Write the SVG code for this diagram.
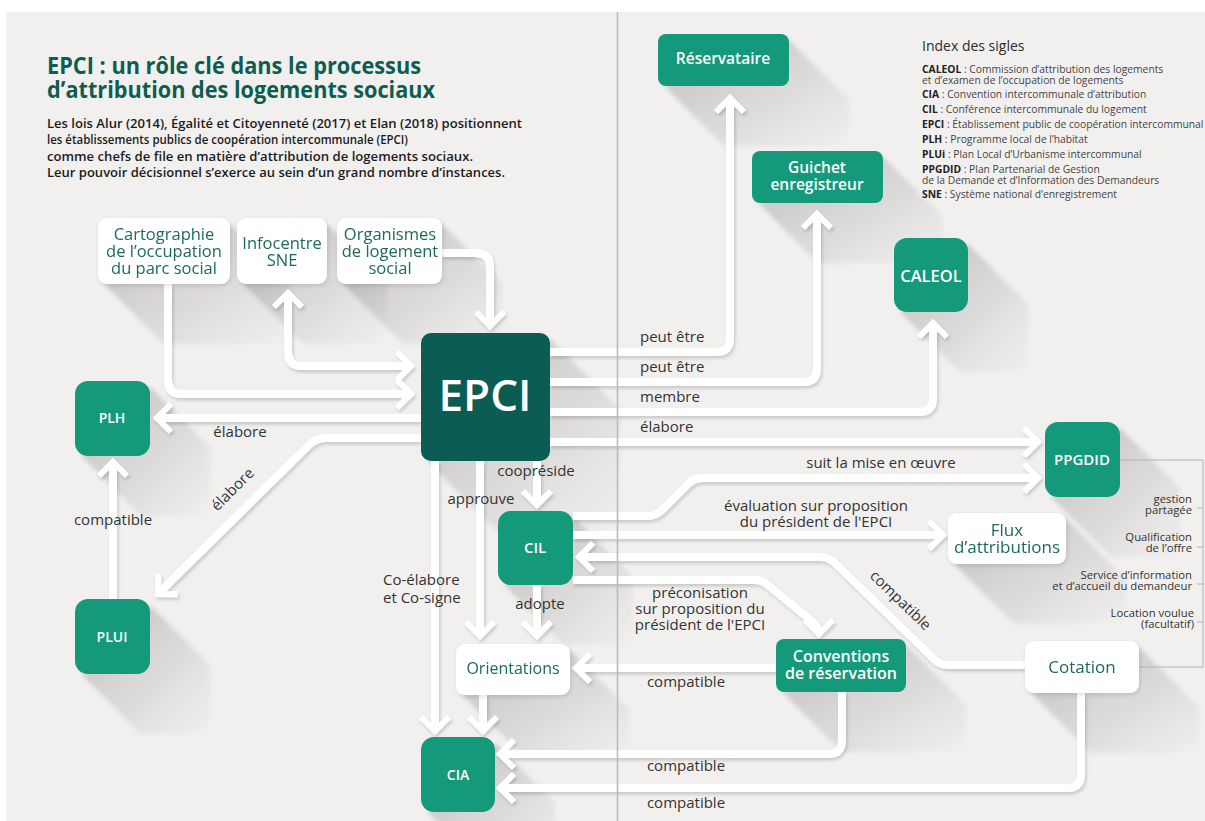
<svg xmlns="http://www.w3.org/2000/svg" width="1205" height="821" viewBox="0 0 1205 821">
  <defs>
    <style>
      .paper { fill: #f2f0ef; }
      .fold { stroke: #bdbbbb; stroke-width: 1.6; fill: none; }
      .ls { fill: url(#longShadow); }
      .green { fill: #14997a; }
      .dark { fill: #0b5c53; }
      .white { fill: #ffffff; }
      .conn { fill: none; stroke: #ffffff; stroke-width: 8; stroke-linecap: butt; stroke-linejoin: round; }
      .tw { font-family: "Open Sans", "Noto Sans", "Liberation Sans", sans-serif; fill: #ffffff; font-weight: 600; text-anchor: middle; }
      .tt { font-family: "Open Sans", "Noto Sans", "Liberation Sans", sans-serif; fill: #1d6a5c; font-weight: 500; text-anchor: middle; }
      .lab { font-family: "Open Sans", "Noto Sans", "Liberation Sans", sans-serif; fill: #333333; font-size: 15px; }
      .mid { text-anchor: middle; }
      .title { font-family: "Open Sans", "Noto Sans", "Liberation Sans", sans-serif; fill: #0e5d4f; font-size: 23px; font-weight: 700; }
      .intro { font-family: "Open Sans", "Noto Sans", "Liberation Sans", sans-serif; fill: #1c1c1c; font-size: 12px; font-weight: 600; }
      .idx { font-family: "Open Sans", "Noto Sans", "Liberation Sans", sans-serif; fill: #444444; font-size: 10.3px; }
      .idx tspan.k { font-weight: 700; fill: #222222; }
      .sub { font-family: "Open Sans", "Noto Sans", "Liberation Sans", sans-serif; fill: #333333; font-size: 11.3px; text-anchor: end; }
      .thin { fill: none; stroke: #b3b1b1; stroke-width: 1; }
    </style>
    <linearGradient id="longShadow" x1="0" y1="0" x2="1" y2="1">
      <stop offset="0.3" stop-color="#000000" stop-opacity="0.14"/>
      <stop offset="1" stop-color="#000000" stop-opacity="0"/>
    </linearGradient>
    <filter id="soft" x="-10%" y="-10%" width="120%" height="120%">
      <feGaussianBlur stdDeviation="2"/>
    </filter>
    <filter id="lineShadow" x="-5%" y="-5%" width="110%" height="110%">
      <feDropShadow dx="1.5" dy="2.5" stdDeviation="1.8" flood-color="#000000" flood-opacity="0.16"/>
    </filter>
    <filter id="boxShadow" x="-20%" y="-20%" width="140%" height="140%">
      <feDropShadow dx="1" dy="2" stdDeviation="2" flood-color="#000000" flood-opacity="0.12"/>
    </filter>
    <marker id="arrow" markerUnits="userSpaceOnUse" viewBox="-24 -24 48 48" markerWidth="48" markerHeight="48" refX="0" refY="0" orient="auto-start-reverse">
      <path d="M-14,-14 L0,0 L-14,14" fill="none" stroke="#ffffff" stroke-width="6" stroke-linejoin="miter"/>
    </marker>
  </defs>

  <!-- page -->
  <rect x="0" y="0" width="1205" height="821" fill="#ffffff"/>
  <rect class="paper" x="6" y="12" width="1199" height="809"/>

  <!-- header -->
  <g id="header">
    <text class="title" x="47" y="74" textLength="374" lengthAdjust="spacingAndGlyphs">EPCI : un rôle clé dans le processus</text>
    <text class="title" x="47" y="98" textLength="388" lengthAdjust="spacingAndGlyphs">d’attribution des logements sociaux</text>
    <text class="intro" x="47" y="128" textLength="475" lengthAdjust="spacingAndGlyphs">Les lois Alur (2014), Égalité et Citoyenneté (2017) et Elan (2018) positionnent</text>
    <text class="intro" x="47" y="144" textLength="361" lengthAdjust="spacingAndGlyphs">les établissements publics de coopération intercommunale (EPCI)</text>
    <text class="intro" x="47" y="161" textLength="426" lengthAdjust="spacingAndGlyphs">comme chefs de file en matière d’attribution de logements sociaux.</text>
    <text class="intro" x="47" y="177" textLength="458" lengthAdjust="spacingAndGlyphs">Leur pouvoir décisionnel s’exerce au sein d’un grand nombre d’instances.</text>
  </g>

  <!-- acronym index -->
  <g id="index">
    <text x="922" y="51" font-family="Open Sans, Noto Sans, Liberation Sans, sans-serif" font-size="14" fill="#2b2b2b">Index des sigles</text>
    <text class="idx"><tspan x="922" y="73"><tspan class="k">CALEOL</tspan> : Commission d’attribution des logements</tspan><tspan x="922" y="83.5">et d’examen de l’occupation de logements</tspan></text>
    <text class="idx" x="922" y="98"><tspan class="k">CIA</tspan> : Convention intercommunale d’attribution</text>
    <text class="idx" x="922" y="113"><tspan class="k">CIL</tspan> : Conférence intercommunale du logement</text>
    <text class="idx" x="922" y="128"><tspan class="k">EPCI</tspan> : Établissement public de coopération intercommunal</text>
    <text class="idx" x="922" y="143"><tspan class="k">PLH</tspan> : Programme local de l’habitat</text>
    <text class="idx" x="922" y="158"><tspan class="k">PLUi</tspan> : Plan Local d’Urbanisme intercommunal</text>
    <text class="idx"><tspan x="922" y="173"><tspan class="k">PPGDID</tspan> : Plan Partenarial de Gestion</tspan><tspan x="922" y="183.5">de la Demande et d’Information des Demandeurs</tspan></text>
    <text class="idx" x="922" y="198"><tspan class="k">SNE</tspan> : Système national d’enregistrement</text>
  </g>

  <!-- long cast shadows of the boxes -->
  <g id="cast-shadows" filter="url(#soft)">
    <path class="ls" d="M230,224 L290,284 L290,344 L164,344 L104,284 Z"/>
    <path class="ls" d="M327,224 L387,284 L387,344 L303,344 L243,284 Z"/>
    <path class="ls" d="M442,224 L502,284 L502,344 L403,344 L343,284 Z"/>
    <path class="ls" d="M550,339 L620,409 L620,531 L497,531 L427,461 Z"/>
    <path class="ls" d="M150,387 L210,447 L210,516 L141,516 L81,456 Z"/>
    <path class="ls" d="M150,605 L210,665 L210,734 L141,734 L81,674 Z"/>
    <path class="ls" d="M789,40 L849,100 L849,146 L724,146 L664,86 Z"/>
    <path class="ls" d="M883,157 L943,217 L943,263 L818,263 L758,203 Z"/>
    <path class="ls" d="M968,244 L1028,304 L1028,372 L960,372 L900,312 Z"/>
    <path class="ls" d="M1120,428 L1180,488 L1180,557 L1111,557 L1051,497 Z"/>
    <path class="ls" d="M573,517 L633,577 L633,645 L564,645 L504,585 Z"/>
    <path class="ls" d="M1066,519 L1126,579 L1126,624 L1014,624 L954,564 Z"/>
    <path class="ls" d="M570,650 L630,710 L630,755 L522,755 L462,695 Z"/>
    <path class="ls" d="M906,645 L966,705 L966,752 L842,752 L782,692 Z"/>
    <path class="ls" d="M1139,647 L1199,707 L1199,753 L1091,753 L1031,693 Z"/>
    <path class="ls" d="M495,743 L555,803 L555,872 L487,872 L427,812 Z"/>
  </g>

  <!-- connectors -->
  <g id="connectors" filter="url(#lineShadow)">
    <path class="conn" d="M168,284 V380 Q168,394 182,394 H411" marker-end="url(#arrow)"/>
    <path class="conn" d="M288,293 V352 Q288,366 302,366 H411" marker-start="url(#arrow)" marker-end="url(#arrow)"/>
    <path class="conn" d="M442,253 H476 Q490,253 490,267 V326" marker-end="url(#arrow)"/>
    <path class="conn" d="M421,418 H157" marker-end="url(#arrow)"/>
    <path class="conn" d="M421,438 H326 Q316,438 309,445 L158,594" marker-end="url(#arrow)"/>
    <path class="conn" d="M113,599 V462" marker-end="url(#arrow)"/>
    <path class="conn" d="M550,352 H716 Q730,352 730,338 V98" marker-end="url(#arrow)"/>
    <path class="conn" d="M550,382 H803 Q817,382 817,368 V214" marker-end="url(#arrow)"/>
    <path class="conn" d="M550,412 H919 Q933,412 933,398 V323" marker-end="url(#arrow)"/>
    <path class="conn" d="M550,442 H1038" marker-end="url(#arrow)"/>
    <path class="conn" d="M573,516 H648 Q656,516 662,510 L688,484 Q694,478 703,478 H1038" marker-end="url(#arrow)"/>
    <path class="conn" d="M573,535 H943" marker-end="url(#arrow)"/>
    <path class="conn" d="M1025,665 H948 Q940,665 934,659 L835,563 Q829,557 820,557 H579" marker-end="url(#arrow)"/>
    <path class="conn" d="M573,580 H755 Q763,580 769,586 L813,622 Q819,627 819,634" marker-end="url(#arrow)"/>
    <path class="conn" d="M776,668 H576" marker-end="url(#arrow)"/>
    <path class="conn" d="M842,692 V740 Q842,754 828,754 H500" marker-end="url(#arrow)"/>
    <path class="conn" d="M1081,693 V774 Q1081,788 1067,788 H500" marker-end="url(#arrow)"/>
    <path class="conn" d="M537,461 V505" marker-end="url(#arrow)"/>
    <path class="conn" d="M480,461 V636" marker-end="url(#arrow)"/>
    <path class="conn" d="M435,461 V731" marker-end="url(#arrow)"/>
    <path class="conn" d="M537,585 V636" marker-end="url(#arrow)"/>
    <path class="conn" d="M483,695 V731" marker-end="url(#arrow)"/>
  </g>

  <!-- PPGDID components bracket -->
  <g id="ppgdid-bracket">
    <path class="thin" d="M1120,460 H1203 V667 H1139"/>
    <path class="thin" d="M1197,508 H1203 M1197,547 H1203 M1197,584 H1203 M1197,622 H1203"/>
    <text class="sub"><tspan x="1192" y="503">gestion</tspan><tspan x="1192" y="514">partagée</tspan></text>
    <text class="sub"><tspan x="1192" y="541">Qualification</tspan><tspan x="1192" y="552">de l’offre</tspan></text>
    <text class="sub"><tspan x="1192" y="579">Service d’information</tspan><tspan x="1192" y="590">et d’accueil du demandeur</tspan></text>
    <text class="sub"><tspan x="1194" y="617">Location voulue</tspan><tspan x="1194" y="628">(facultatif)</tspan></text>
  </g>

  <!-- nodes -->
  <g id="node-cartographie" filter="url(#boxShadow)">
    <rect class="white" x="98" y="218" width="132" height="66" rx="9"/>
    <text class="tt" font-size="16.5"><tspan x="164" y="240">Cartographie</tspan><tspan x="164" y="257">de l’occupation</tspan><tspan x="164" y="274">du parc social</tspan></text>
  </g>
  <g id="node-infocentre" filter="url(#boxShadow)">
    <rect class="white" x="237" y="218" width="90" height="66" rx="9"/>
    <text class="tt" font-size="16.5"><tspan x="282" y="249">Infocentre</tspan><tspan x="282" y="266">SNE</tspan></text>
  </g>
  <g id="node-organismes" filter="url(#boxShadow)">
    <rect class="white" x="337" y="218" width="105" height="66" rx="9"/>
    <text class="tt" font-size="16.5"><tspan x="390" y="240">Organismes</tspan><tspan x="390" y="257">de logement</tspan><tspan x="390" y="274">social</tspan></text>
  </g>
  <g id="node-epci">
    <rect class="dark" x="421" y="333" width="129" height="128" rx="10"/>
    <text class="tw" x="485" y="411" font-size="44" font-weight="800">EPCI</text>
  </g>
  <g id="node-plh">
    <rect class="green" x="75" y="381" width="75" height="75" rx="13"/>
    <text class="tw" x="112" y="423" font-size="14">PLH</text>
  </g>
  <g id="node-plui">
    <rect class="green" x="75" y="599" width="75" height="75" rx="13"/>
    <text class="tw" x="112" y="642" font-size="14">PLUI</text>
  </g>
  <g id="node-reservataire">
    <rect class="green" x="658" y="34" width="131" height="52" rx="8"/>
    <text class="tw" x="723" y="64" font-size="15.5">Réservataire</text>
  </g>
  <g id="node-guichet">
    <rect class="green" x="752" y="151" width="131" height="52" rx="8"/>
    <text class="tw" font-size="15.5"><tspan x="817" y="173">Guichet</tspan><tspan x="817" y="190">enregistreur</tspan></text>
  </g>
  <g id="node-caleol">
    <rect class="green" x="894" y="238" width="74" height="74" rx="13"/>
    <text class="tw" x="931" y="282" font-size="16.5">CALEOL</text>
  </g>
  <g id="node-ppgdid">
    <rect class="green" x="1045" y="422" width="75" height="75" rx="13"/>
    <text class="tw" x="1082" y="465" font-size="15">PPGDID</text>
  </g>
  <g id="node-cil">
    <rect class="green" x="498" y="511" width="75" height="74" rx="13"/>
    <text class="tw" x="535" y="553" font-size="15">CIL</text>
  </g>
  <g id="node-flux" filter="url(#boxShadow)">
    <rect class="white" x="948" y="513" width="118" height="51" rx="9"/>
    <text class="tt" font-size="17"><tspan x="1007" y="536">Flux</tspan><tspan x="1007" y="553">d’attributions</tspan></text>
  </g>
  <g id="node-orientations" filter="url(#boxShadow)">
    <rect class="white" x="456" y="644" width="114" height="51" rx="9"/>
    <text class="tt" x="513" y="674" font-size="16">Orientations</text>
  </g>
  <g id="node-conventions">
    <rect class="green" x="776" y="639" width="130" height="53" rx="8"/>
    <text class="tw" font-size="16"><tspan x="841" y="662">Conventions</tspan><tspan x="841" y="679">de réservation</tspan></text>
  </g>
  <g id="node-cotation" filter="url(#boxShadow)">
    <rect class="white" x="1025" y="641" width="114" height="52" rx="9"/>
    <text class="tt" x="1082" y="673" font-size="17">Cotation</text>
  </g>
  <g id="node-cia">
    <rect class="green" x="421" y="737" width="74" height="75" rx="13"/>
    <text class="tw" x="458" y="780" font-size="14">CIA</text>
  </g>

  <!-- connector labels -->
  <g id="connector-labels">
    <text class="lab mid" x="240" y="437">élabore</text>
    <text class="lab mid" transform="translate(236,493) rotate(-45)">élabore</text>
    <text class="lab mid" x="113" y="525">compatible</text>
    <text class="lab" x="640" y="342">peut être</text>
    <text class="lab" x="640" y="372">peut être</text>
    <text class="lab" x="640" y="402">membre</text>
    <text class="lab" x="640" y="432">élabore</text>
    <text class="lab mid" x="881" y="468">suit la mise en œuvre</text>
    <text class="lab mid"><tspan x="816" y="511">évaluation sur proposition</tspan><tspan x="816" y="527">du président de l'EPCI</tspan></text>
    <text class="lab mid" transform="translate(897,604) rotate(44)">compatible</text>
    <text class="lab mid" x="536" y="476">coopréside</text>
    <text class="lab mid" x="481" y="504">approuve</text>
    <text class="lab"><tspan x="383" y="585">Co-élabore</tspan><tspan x="383" y="603">et Co-signe</tspan></text>
    <text class="lab mid" x="540" y="609">adopte</text>
    <text class="lab mid"><tspan x="700" y="598">préconisation</tspan><tspan x="700" y="614">sur proposition du</tspan><tspan x="700" y="630">président de l'EPCI</tspan></text>
    <text class="lab mid" x="686" y="687">compatible</text>
    <text class="lab mid" x="686" y="771">compatible</text>
    <text class="lab mid" x="686" y="808">compatible</text>
  </g>

  <!-- page fold -->
  <line class="fold" x1="617.5" y1="12" x2="617.5" y2="821"/>
</svg>
